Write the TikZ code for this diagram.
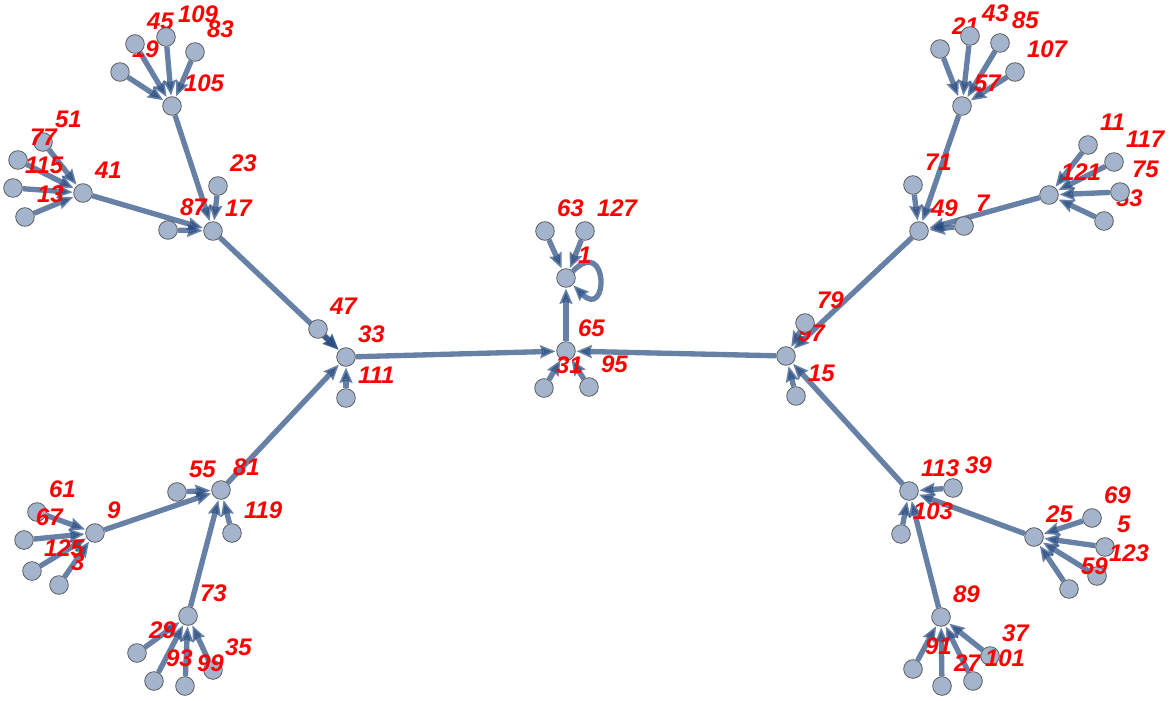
\documentclass[tikz,border=0pt]{standalone}
\usepackage{fontspec}
\setmainfont{Liberation Sans}
\usetikzlibrary{arrows.meta,backgrounds}
\definecolor{edgeblue}{RGB}{38,74,128}
\definecolor{vertfill}{RGB}{163,180,204}
\tikzset{
  vert/.style={circle,draw=black!65,line width=0.6pt,fill=vertfill,
    minimum size=14pt,inner sep=0pt,label={[lbl]right:#1}},
  lbl/.style={xshift=1.5pt,yshift=17.25pt,inner sep=0pt,text=red,
    font=\fontsize{18}{18}\selectfont\bfseries\itshape},
  edge/.style={draw=edgeblue,opacity=0.7,line width=4pt,
    -{Stealth[length=11.5pt,width=9.5pt,inset=1.5pt]},shorten >=0.5pt}
}
\begin{document}
\begin{tikzpicture}[x=0.75pt,y=-0.75pt]
\useasboundingbox (0,0) rectangle (1170,700);
% centre
\node[vert=1] (v1) at (566,278) {};
\node[vert=63] (v63) at (545,231) {};
\node[vert=127] (v127) at (585,231) {};
\node[vert=65] (v65) at (566,351) {};
\node[vert=31] (v31) at (544,388) {};
\node[vert=95] (v95) at (589,387) {};
% left half
\node[vert=33] (v33) at (346,357) {};
\node[vert=47] (v47) at (318,329) {};
\node[vert=111] (v111) at (346,398) {};
\node[vert=17] (v17) at (213,231) {};
\node[vert=23] (v23) at (218,186) {};
\node[vert=87] (v87) at (168,230) {};
\node[vert=105] (v105) at (172,106) {};
\node[vert=19] (v19) at (120,72) {};
\node[vert=45] (v45) at (135,44) {};
\node[vert=109] (v109) at (166,37) {};
\node[vert=83] (v83) at (195,52) {};
\node[vert=41] (v41) at (83,193) {};
\node[vert=51] (v51) at (43,142) {};
\node[vert=77] (v77) at (18,160) {};
\node[vert=115] (v115) at (13,188) {};
\node[vert=13] (v13) at (25,217) {};
\node[vert=81] (v81) at (221,490) {};
\node[vert=55] (v55) at (177,492) {};
\node[vert=119] (v119) at (232,533) {};
\node[vert=9] (v9) at (95,533) {};
\node[vert=61] (v61) at (37,512) {};
\node[vert=67] (v67) at (24,540) {};
\node[vert=125] (v125) at (32,571) {};
\node[vert=3] (v3) at (59,585) {};
\node[vert=73] (v73) at (188,616) {};
\node[vert=29] (v29) at (137,653) {};
\node[vert=93] (v93) at (154,681) {};
\node[vert=35] (v35) at (213,670) {};
\node[vert=99] (v99) at (185,686) {};
% right half
\node[vert=97] (v97) at (786,356) {};
\node[vert=79] (v79) at (805,323) {};
\node[vert=15] (v15) at (796,396) {};
\node[vert=49] (v49) at (919,231) {};
\node[vert=71] (v71) at (913,185) {};
\node[vert=7] (v7) at (964,226) {};
\node[vert=57] (v57) at (962,106) {};
\node[vert=21] (v21) at (940,49) {};
\node[vert=43] (v43) at (970,36) {};
\node[vert=85] (v85) at (1000,43) {};
\node[vert=107] (v107) at (1015,72) {};
\node[vert=121] (v121) at (1049,195) {};
\node[vert=11] (v11) at (1088,145) {};
\node[vert=117] (v117) at (1114,162) {};
\node[vert=53] (v53) at (1104,221) {};
\node[vert=75] (v75) at (1120,192) {};
\node[vert=113] (v113) at (909,491) {};
\node[vert=39] (v39) at (953,488) {};
\node[vert=103] (v103) at (901,534) {};
\node[vert=25] (v25) at (1034,537) {};
\node[vert=69] (v69) at (1092,518) {};
\node[vert=5] (v5) at (1105,547) {};
\node[vert=123] (v123) at (1097,576) {};
\node[vert=59] (v59) at (1069,589) {};
\node[vert=89] (v89) at (941,617) {};
\node[vert=91] (v91) at (913,669) {};
\node[vert=27] (v27) at (942,686) {};
\node[vert=37] (v37) at (990,656) {};
\node[vert=101] (v101) at (973,681) {};
% edges x -> x^2 mod 128
\begin{scope}[on background layer]
\foreach \a/\b in {63/1,127/1,65/1,31/65,95/65,33/65,97/65,
  47/33,111/33,17/33,81/33,23/17,87/17,105/17,41/17,
  19/105,45/105,83/105,109/105,13/41,51/41,77/41,115/41,
  9/81,55/81,73/81,119/81,3/9,61/9,67/9,125/9,
  29/73,35/73,93/73,99/73,15/97,49/97,79/97,113/97,
  7/49,57/49,71/49,121/49,21/57,43/57,85/57,107/57,
  11/121,53/121,75/121,117/121,25/113,39/113,89/113,103/113,
  5/25,59/25,69/25,123/25,27/89,37/89,91/89,101/89}
  \draw[edge] (v\a) -- (v\b);
\draw[edge] (v1) to[out=45,in=-45,min distance=38pt] (v1);
\end{scope}
\end{tikzpicture}
\end{document}
